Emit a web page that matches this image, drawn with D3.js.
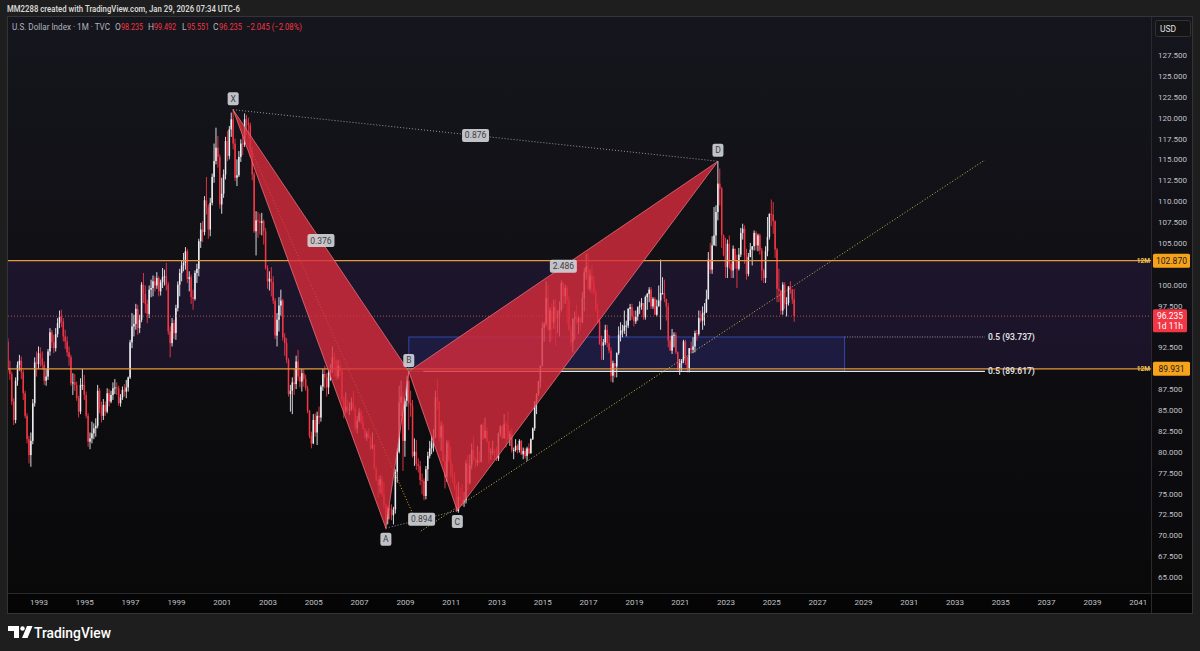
<!DOCTYPE html>
<html><head><meta charset="utf-8">
<script src="https://cdnjs.cloudflare.com/ajax/libs/d3/7.8.5/d3.min.js"></script>
<style>body{margin:0;background:#1e1e1e;overflow:hidden}svg{display:block}</style>
</head><body><svg id="c" width="1200" height="651"></svg>
<script>
// ---------------- DATA ----------------
const startYear = 1991, startMonth = 8; // first candle: Sep 1991
const firstOpen = 93.2;
const closes = [
89.9,89.3,86.0,83.8,
88.5,90.4,90.9,89.5,87.0,84.3,81.5,79.6,81.3,85.8,90.7,90.5,
91.8,91.2,90.4,88.5,89.0,92.0,94.3,93.1,92.4,94.1,95.4,96.2,
95.6,93.8,93.2,91.9,91.3,88.2,88.3,88.0,86.4,84.8,88.0,88.0,
86.8,84.3,81.2,81.6,82.2,82.8,83.1,87.3,85.2,84.3,85.6,84.8,
87.0,86.0,86.8,87.6,87.7,87.6,85.8,86.5,87.4,87.2,87.7,88.9,
93.1,95.0,95.3,97.1,94.8,95.8,100.0,98.9,97.7,96.5,99.4,99.6,
100.4,99.9,100.8,99.2,100.3,100.9,101.0,100.0,94.4,93.0,95.4,94.2,
97.2,100.0,101.4,102.3,102.6,104.0,100.7,100.9,98.5,98.3,101.4,101.9,
105.2,106.6,106.3,110.1,109.3,106.6,109.8,112.9,114.8,116.4,115.3,109.6,
110.9,113.2,117.2,115.4,118.6,119.8,116.9,112.8,113.1,115.3,116.9,116.8,
119.8,119.4,119.1,116.0,113.2,106.4,107.7,107.6,107.4,107.6,106.4,102.0,
100.4,100.7,100.3,98.1,93.9,95.8,97.5,98.1,93.7,93.0,91.0,86.9,
87.3,88.3,88.1,90.8,89.0,88.4,89.4,88.7,87.6,84.9,81.9,81.0,
83.8,82.3,84.3,84.1,87.8,89.3,88.9,87.7,89.5,89.8,91.3,90.9,
89.0,90.3,89.6,86.3,84.9,85.4,85.0,85.1,85.9,85.2,82.8,83.7,
84.7,83.6,82.8,81.7,82.2,81.7,80.4,80.8,78.0,76.6,76.0,76.7,
74.9,73.7,71.9,73.2,73.0,72.4,73.1,77.6,80.0,85.9,86.6,81.3,
86.1,88.5,85.8,85.5,79.5,80.0,78.5,78.3,76.6,76.5,74.7,77.9,
79.5,80.4,81.1,81.8,86.5,86.0,81.7,83.1,78.9,77.0,81.1,79.0,
77.2,76.9,75.9,72.9,74.6,74.3,74.0,74.2,78.6,76.2,78.4,80.2,
79.0,78.7,79.0,78.8,83.2,81.6,82.5,81.2,79.9,80.0,80.1,79.8,
79.2,82.2,83.0,81.6,83.3,83.2,81.5,82.1,80.2,80.2,80.7,80.2,
81.3,79.7,80.1,79.5,80.4,79.8,81.5,82.8,86.0,86.9,88.4,90.3,
94.8,95.3,98.4,94.6,96.9,95.5,97.3,96.0,96.4,97.0,100.2,98.6,
99.6,98.2,94.6,93.1,95.9,96.1,95.5,96.0,95.5,98.4,101.5,102.2,
99.5,101.1,100.4,99.1,97.0,95.6,92.9,92.7,93.1,94.6,93.0,92.1,
89.1,90.6,90.2,91.8,94.0,94.5,94.5,95.1,95.1,97.1,97.3,96.2,
95.6,96.2,97.3,97.5,97.8,96.1,98.5,98.9,99.4,97.4,98.3,96.4,
97.4,98.1,99.0,99.0,98.3,97.4,93.3,92.1,93.9,94.0,91.9,89.9,
90.6,90.9,93.2,91.3,90.0,92.4,92.2,92.6,94.2,94.1,96.0,95.7,
96.6,96.7,98.3,103.0,101.8,104.7,105.9,108.7,112.1,111.5,105.9,103.5,
102.1,104.9,102.5,101.7,104.3,102.9,101.9,103.6,106.2,106.7,103.5,101.3,
103.3,104.2,104.6,106.2,104.7,105.9,104.1,101.7,100.8,104.0,105.7,108.5,
108.4,107.6,104.2,99.5,99.3,96.9,100.0,97.8,97.8,99.8,99.4,98.235,
96.235];
const highs = [
93.6,90.9,89.6,86.4,
88.9,90.8,91.6,91.4,89.8,87.3,84.6,81.9,82.3,86.3,91.3,92.0,
92.6,92.5,92.0,90.8,89.9,92.3,94.8,94.6,94.0,94.8,96.0,96.9,
97.0,96.0,94.6,93.8,92.6,91.6,89.4,89.3,88.4,86.7,88.8,89.9,
89.2,87.2,84.6,82.3,83.6,83.4,84.0,88.0,87.6,86.0,86.3,86.0,
87.6,87.5,87.3,88.3,88.7,88.3,87.9,86.9,87.8,88.1,88.6,89.0,
93.4,96.6,96.4,97.7,97.6,96.4,100.3,101.4,99.9,98.2,99.9,100.6,
101.1,101.0,101.5,101.0,100.6,102.0,101.8,102.6,100.3,95.0,96.0,95.8,
97.6,100.4,101.9,102.9,103.8,104.5,104.3,101.6,101.2,99.4,101.7,102.5,
105.5,107.4,107.6,110.6,112.9,109.6,110.4,113.3,116.9,118.8,117.8,115.6,
112.8,113.8,117.7,118.4,119.0,120.6,121.0,117.5,115.0,116.0,117.4,118.0,
120.5,120.3,120.0,119.4,116.5,113.5,108.8,108.7,108.5,108.6,107.8,106.8,
102.3,101.6,102.1,101.0,98.4,96.6,98.5,99.4,98.3,94.2,93.6,91.2,
88.0,88.9,90.0,91.5,92.2,89.9,89.9,89.9,89.2,87.9,85.0,82.4,
84.5,84.6,84.8,85.4,88.0,89.9,90.3,89.4,89.8,90.5,92.6,91.9,
91.1,91.0,90.9,90.0,86.6,87.1,86.2,85.9,86.5,87.3,85.5,84.3,
85.2,85.0,84.3,82.8,82.5,82.8,81.9,82.3,80.9,78.2,77.0,77.2,
77.1,76.4,73.8,73.4,73.6,73.7,73.4,77.9,80.4,87.9,88.5,87.2,
86.4,89.1,89.6,87.3,86.2,81.6,81.4,79.2,78.9,77.4,76.8,78.3,
80.0,81.3,82.0,82.7,87.3,88.7,86.1,83.6,83.3,79.6,81.4,81.4,
80.6,78.5,77.6,76.1,76.4,75.7,76.1,75.2,79.0,79.6,79.7,81.0,
81.8,79.4,80.7,80.1,83.3,83.5,84.1,82.9,81.3,80.4,81.3,80.4,
80.6,82.3,83.2,83.2,84.5,83.6,84.8,82.5,82.8,80.5,81.5,80.9,
81.5,81.4,80.5,80.4,80.6,81.0,81.6,82.9,86.1,87.0,88.5,90.3,
95.5,95.5,100.4,100.0,97.3,97.8,98.2,98.3,96.9,98.0,100.5,100.3,
100.0,99.9,98.6,95.1,96.0,96.8,97.6,96.3,96.1,99.1,102.0,103.7,
103.8,101.8,102.3,101.0,99.5,97.8,96.0,93.9,93.5,95.2,95.2,94.0,
92.5,90.9,90.6,91.9,95.0,95.5,95.2,96.9,95.7,97.2,97.7,97.7,
96.9,96.9,97.4,98.0,98.4,97.8,98.7,99.0,99.7,99.7,98.5,98.5,
98.2,99.9,103.0,100.9,100.6,98.3,97.8,93.9,94.7,94.3,94.3,92.0,
91.1,91.1,93.4,93.4,91.4,92.4,93.2,93.7,94.5,94.6,96.9,96.9,
97.4,97.8,99.4,103.9,105.0,105.8,109.3,109.5,114.8,113.9,111.7,106.0,
105.6,105.4,105.9,102.8,104.7,104.0,103.6,104.4,106.8,107.3,107.1,104.3,
103.8,105.0,104.6,106.5,106.4,106.1,106.1,104.4,101.9,104.6,108.1,108.5,
110.2,109.9,107.7,104.4,101.9,99.4,100.3,100.3,98.5,99.8,100.4,99.5,
99.492];
const lows = [
89.5,88.6,85.6,83.2,
83.4,87.9,89.7,88.7,86.2,84.0,81.0,78.6,78.2,80.9,85.4,89.0,
89.9,90.2,89.8,88.0,87.9,88.6,91.5,92.4,91.8,92.0,93.7,94.8,
94.9,93.2,92.3,91.4,90.3,87.9,86.8,87.3,86.1,84.1,84.5,87.4,
86.2,84.0,80.6,80.3,81.0,81.5,81.8,82.8,84.6,83.5,83.8,84.3,
84.6,85.4,85.8,86.2,86.9,86.8,85.5,85.4,86.2,86.6,86.4,87.2,
88.7,92.4,93.8,94.6,94.0,94.2,95.5,97.8,96.6,95.4,96.0,98.5,
98.6,99.2,99.5,98.6,98.7,99.6,99.9,99.3,94.0,91.3,92.6,93.5,
93.4,96.8,98.6,100.4,101.6,101.8,100.2,99.2,97.7,97.0,98.1,100.2,
101.0,104.4,105.1,105.9,108.4,105.5,105.8,109.5,112.2,114.4,114.0,109.1,
108.5,110.4,112.6,114.8,115.0,117.7,116.2,112.4,111.8,112.9,114.7,115.5,
116.5,117.9,117.5,115.3,112.5,106.2,103.5,105.6,106.0,105.9,104.8,101.8,
99.5,99.3,98.6,97.7,93.5,92.6,94.4,96.3,93.3,91.5,90.6,86.6,
84.8,84.5,86.8,87.5,88.5,87.7,87.2,87.8,87.3,84.6,81.6,80.4,
80.9,81.8,80.8,83.3,83.6,87.3,87.6,86.6,86.9,88.5,89.4,89.0,
88.6,88.7,89.0,86.0,84.0,84.6,84.7,84.4,84.9,84.9,82.5,82.2,
83.5,83.3,82.6,81.6,81.3,81.6,80.2,80.3,77.8,76.5,74.5,75.0,
74.6,73.2,70.7,71.3,71.9,71.8,71.3,72.6,76.3,79.8,84.3,77.7,
79.4,85.4,82.6,84.2,79.3,78.3,77.8,77.5,76.0,74.9,74.2,74.3,
76.5,79.2,79.7,80.0,81.6,85.0,81.2,80.1,78.8,75.6,76.4,78.8,
76.9,76.3,75.4,72.8,72.7,73.5,73.5,73.4,73.8,75.4,76.1,77.9,
78.9,78.1,78.3,78.6,78.7,81.4,81.6,81.1,78.6,79.0,79.6,79.0,
78.9,78.9,81.8,81.5,81.6,80.5,81.4,80.7,79.9,79.1,80.0,79.8,
79.9,79.6,79.1,79.2,78.9,79.7,79.8,81.4,82.5,84.5,86.7,87.6,
90.2,93.2,95.0,94.5,93.1,93.3,94.7,92.6,94.2,93.8,96.8,97.2,
97.7,95.2,94.5,92.6,91.9,93.4,95.3,94.1,94.5,95.4,96.8,100.6,
99.4,99.2,98.9,98.8,96.8,95.4,92.8,91.0,91.0,92.8,92.5,91.8,
88.4,88.3,88.9,88.9,91.6,93.2,93.7,94.1,93.8,94.8,95.7,95.8,
95.0,95.3,95.7,96.5,97.0,95.8,95.8,97.0,97.9,97.1,97.1,96.4,
96.2,97.5,94.6,98.8,97.9,95.7,92.5,92.1,91.7,92.5,91.7,89.7,
89.2,89.7,90.6,90.4,89.5,89.5,91.8,91.8,91.9,93.3,93.9,95.5,
94.6,95.1,96.6,98.2,101.3,101.3,104.7,104.6,107.7,109.5,104.4,103.4,
100.8,100.8,101.9,100.8,100.8,101.9,99.6,101.7,103.3,105.4,102.5,100.6,
101.0,103.3,102.3,104.1,104.1,104.0,103.6,100.5,100.2,100.2,103.4,105.4,
107.0,106.1,103.2,97.9,97.9,96.4,96.4,97.1,96.2,97.5,98.9,97.7,
95.551];

// XABCD harmonic pattern
const patternNames  = ["X","A","B","C","D"];
const patternTimes  = [2001.5, 2008.17, 2009.17, 2011.29, 2022.67];
const patternPrices = [120.95, 70.85, 89.617, 72.95, 114.78];
const ratioPairs  = [[0,2],[1,3],[2,4],[0,4]];
const ratioLabels = ["0.376","0.894","2.486","0.876"];

// other drawings
const orangeRayTimes = [2001.5, 2009.55], orangeRayPrices = [120.95, 71.3];
const trendTimes = [2009.7, 2034.33], trendPrices = [70.5, 114.93];
const levels12M = [102.870, 89.931];
const lastPrice = 96.235;
const fibTop = 93.737, fibBottom = 89.617;
const fibBoxTimes = [2009.17, 2028.2];
const fibLineEnd = 2034.33, fibWhiteStart = 2009.8;

const priceTicks = [127.5,125,122.5,120,117.5,115,112.5,110,107.5,105,100,97.5,92.5,87.5,85,82.5,80,77.5,75,72.5,70,67.5,65];
const yearTicks = d3.range(1993, 2042, 2);

// ---------------- LAYOUT ----------------
const svg = d3.select("#c");
const P = {l:8, r:1151, t:17, b:593};
const x = d3.scaleLinear().domain([1993, 2041]).range([38.5, 1137.7]);
const y = d3.scaleLinear().domain([65, 127.5]).range([577, 55]);
const FONT = "Roboto, 'Open Sans', sans-serif";

const defs = svg.append("defs");
const g1 = defs.append("linearGradient").attr("id","bg").attr("x1",0).attr("y1",0).attr("x2",0).attr("y2",1);
g1.append("stop").attr("offset","0%").attr("stop-color","#15151d");
g1.append("stop").attr("offset","100%").attr("stop-color","#09090a");
defs.append("clipPath").attr("id","clip").append("rect")
  .attr("x",P.l).attr("y",P.t).attr("width",P.r-P.l).attr("height",P.b-P.t);

// frame / backgrounds
svg.append("rect").attr("width",1200).attr("height",651).attr("fill","#1e1e1e");
svg.append("rect").attr("x",P.l).attr("y",P.t).attr("width",1192-P.l).attr("height",P.b-P.t).attr("fill","url(#bg)");
svg.append("rect").attr("x",P.l).attr("y",P.b).attr("width",1192-P.l).attr("height",20).attr("fill","#050505");
svg.append("line").attr("x1",P.l).attr("x2",1192).attr("y1",P.b+0.5).attr("y2",P.b+0.5).attr("stroke","#2a2a2e");
svg.append("line").attr("x1",P.r+0.5).attr("x2",P.r+0.5).attr("y1",P.t).attr("y2",613).attr("stroke","#2a2a2e");
svg.append("rect").attr("x",P.l-0.5).attr("y",P.t-0.5).attr("width",1192-P.l+1).attr("height",613-P.t+1)
  .attr("fill","none").attr("stroke","#333338");

const plot = svg.append("g").attr("clip-path","url(#clip)");

// purple 12M zone
plot.append("rect").attr("x",P.l).attr("width",P.r-P.l)
  .attr("y",y(levels12M[0])).attr("height",y(levels12M[1])-y(levels12M[0]))
  .attr("fill","rgb(103,58,183)").attr("opacity",0.14);

// fib box
plot.append("rect").attr("x",x(fibBoxTimes[0])).attr("width",x(fibBoxTimes[1])-x(fibBoxTimes[0]))
  .attr("y",y(fibTop)).attr("height",y(fibBottom)-y(fibTop))
  .attr("fill","rgba(41,98,255,0.11)").attr("stroke","rgba(60,90,220,0.7)").attr("stroke-width",1);

// candles
const candles = closes.map((c,i)=>{
  const mi = startMonth + i;
  const t = startYear + Math.floor(mi/12) + (mi%12)/12;
  const o = i===0 ? firstOpen : closes[i-1];
  return {t, o, c, h: Math.max(highs[i],o,c), l: Math.min(lows[i],o,c)};
});
const bw = (x(1994)-x(1993))/12*0.8;
const cg = plot.append("g");
candles.forEach(d=>{
  const col = d.c >= d.o ? "#ececf0" : "#f23645";
  const cx = x(d.t);
  cg.append("line").attr("x1",cx).attr("x2",cx).attr("y1",y(d.h)).attr("y2",y(d.l))
    .attr("stroke",col).attr("stroke-width",0.9);
  const top = y(Math.max(d.o,d.c)), bot = y(Math.min(d.o,d.c));
  cg.append("rect").attr("x",cx-bw/2).attr("width",bw).attr("y",top).attr("height",Math.max(1,bot-top)).attr("fill",col);
});

// horizontal levels
levels12M.forEach(v=>{
  plot.append("line").attr("x1",P.l).attr("x2",P.r).attr("y1",y(v)).attr("y2",y(v))
    .attr("stroke","#e59a3c").attr("stroke-width",1.2);
  svg.append("text").attr("x",P.r-1).attr("y",y(v)+2.5).attr("text-anchor","end")
    .attr("font-family",FONT).attr("font-size",6.5).attr("font-weight",700).attr("fill","#f2c84b").text("12M");
});
plot.append("line").attr("x1",P.l).attr("x2",P.r).attr("y1",y(lastPrice)).attr("y2",y(lastPrice))
  .attr("stroke","#d0604a").attr("stroke-width",1).attr("stroke-dasharray","1,2").attr("opacity",0.85);

// fib lines and labels
plot.append("line").attr("x1",x(fibBoxTimes[1])).attr("x2",x(fibLineEnd)).attr("y1",y(fibTop)).attr("y2",y(fibTop))
  .attr("stroke","#9598a1").attr("stroke-dasharray","1,1.5");
plot.append("line").attr("x1",x(fibWhiteStart)).attr("x2",x(fibLineEnd)).attr("y1",y(fibBottom)).attr("y2",y(fibBottom))
  .attr("stroke","#e6e6ea").attr("stroke-width",1.3);
[[fibTop,"0.5 (93.737)"],[fibBottom,"0.5 (89.617)"]].forEach(([v,t])=>{
  svg.append("text").attr("x",x(fibLineEnd)+3).attr("y",y(v)+3).attr("font-family",FONT)
    .attr("font-size",8.5).attr("font-weight",600).attr("fill","#e0e0e4").text(t);
});

// trend lines
plot.append("line").attr("x1",x(orangeRayTimes[0])).attr("y1",y(orangeRayPrices[0]))
  .attr("x2",x(orangeRayTimes[1])).attr("y2",y(orangeRayPrices[1]))
  .attr("stroke","#f0a030").attr("stroke-width",1).attr("stroke-dasharray","1,2");
plot.append("line").attr("x1",x(trendTimes[0])).attr("y1",y(trendPrices[0]))
  .attr("x2",x(trendTimes[1])).attr("y2",y(trendPrices[1]))
  .attr("stroke","#cbbd4a").attr("stroke-width",1).attr("stroke-dasharray","1,2");

// XABCD pattern
const pts = patternTimes.map((t,i)=>[x(t), y(patternPrices[i])]);
[[0,1,2],[2,3,4]].forEach(tri=>{
  plot.append("path").attr("d","M"+tri.map(k=>pts[k].join(",")).join("L")+"Z")
    .attr("fill","#d92c3c").attr("fill-opacity",0.8)
    .attr("stroke","#f77a86").attr("stroke-opacity",0.7).attr("stroke-width",1);
});
[[1,3],[0,4]].forEach(([a,b])=>{
  plot.append("line").attr("x1",pts[a][0]).attr("y1",pts[a][1]).attr("x2",pts[b][0]).attr("y2",pts[b][1])
    .attr("stroke","#9598a1").attr("stroke-width",1).attr("stroke-dasharray","1,2");
});
function tag(cx, cy, txt, w){
  svg.append("rect").attr("x",cx-w/2).attr("y",cy-6.5).attr("width",w).attr("height",13).attr("rx",2)
    .attr("fill","#cfd1d6").attr("opacity",0.92);
  svg.append("text").attr("x",cx).attr("y",cy+3).attr("text-anchor","middle").attr("font-family",FONT)
    .attr("font-size",8.5).attr("fill","#3b3d44").text(txt);
}
ratioPairs.forEach(([a,b],i)=>{
  tag((pts[a][0]+pts[b][0])/2, (pts[a][1]+pts[b][1])/2, ratioLabels[i], 27);
});
patternNames.forEach((n,i)=>{
  const up = (i===0||i===2||i===4);
  tag(pts[i][0], pts[i][1] + (up?-11:11), n, 11);
});

// price axis
const ax = svg.append("g").attr("transform",`translate(1158,0)`)
  .call(d3.axisRight(y).tickValues(priceTicks).tickFormat(d3.format(".3f")).tickSize(0).tickPadding(0));
ax.select(".domain").remove();
ax.selectAll("text").attr("font-family",FONT).attr("font-size",8).attr("fill","#c0c2ca");

// price boxes
function priceBox(v, fill, txt, tcol){
  svg.append("rect").attr("x",1153).attr("y",y(v)-7).attr("width",37).attr("height",14).attr("rx",1.5).attr("fill",fill);
  svg.append("text").attr("x",1171.5).attr("y",y(v)+3).attr("text-anchor","middle").attr("font-family",FONT)
    .attr("font-size",8.5).attr("fill",tcol).text(txt);
}
priceBox(levels12M[0], "#f7a21b", "102.870", "#1a1a1a");
priceBox(levels12M[1], "#f7a21b", "89.931", "#1a1a1a");
svg.append("rect").attr("x",1153).attr("y",y(lastPrice)-7).attr("width",34).attr("height",23).attr("rx",1.5).attr("fill","#f23645");
svg.append("text").attr("x",1170).attr("y",y(lastPrice)+3).attr("text-anchor","middle").attr("font-family",FONT)
  .attr("font-size",8.5).attr("fill","#fff").text("96.235");
svg.append("text").attr("x",1170).attr("y",y(lastPrice)+13).attr("text-anchor","middle").attr("font-family",FONT)
  .attr("font-size",8.5).attr("fill","#fff").text("1d 11h");
// USD box
svg.append("rect").attr("x",1155.5).attr("y",20.5).attr("width",35).attr("height",16).attr("rx",2)
  .attr("fill","#141414").attr("stroke","#333");
svg.append("text").attr("x",1160).attr("y",31.5).attr("font-family",FONT).attr("font-size",8.5).attr("fill","#e0e0e0").text("USD");

// time axis
const tx = svg.append("g").attr("transform",`translate(0,${P.b+6})`)
  .call(d3.axisBottom(x).tickValues(yearTicks).tickFormat(d3.format("d")).tickSize(0).tickPadding(0));
tx.select(".domain").remove();
tx.selectAll("text").attr("font-family",FONT).attr("font-size",8).attr("fill","#c0c2ca");

// header and legend
svg.append("text").attr("x",7).attr("y",12).attr("font-family",FONT).attr("font-size",9).attr("font-weight",600)
  .attr("fill","#d6d6d6").attr("textLength",233).attr("lengthAdjust","spacingAndGlyphs")
  .text("MM2288 created with TradingView.com, Jan 29, 2026 07:34 UTC-6");
const leg = [
  [12,"U.S. Dollar Index · 1M · TVC","#b2b5be",98],
  [115,"O","#b2b5be",null],[121,"98.235","#f23645",22],
  [148,"H","#b2b5be",null],[154,"99.492","#f23645",22],
  [182,"L","#b2b5be",null],[187,"95.551","#f23645",22],
  [213,"C","#b2b5be",null],[219,"96.235","#f23645",23],
  [246,"−2.045 (−2.08%)","#f23645",56]];
leg.forEach(([lx,t,c,w])=>{
  const el = svg.append("text").attr("x",lx).attr("y",30).attr("font-family",FONT).attr("font-size",8.5).attr("fill",c).text(t);
  if (w) el.attr("textLength",w).attr("lengthAdjust","spacingAndGlyphs");
});

// footer logo
const lg = svg.append("g").attr("fill","#ffffff");
lg.append("path").attr("d","M8,626 h11 v12 h-5 v-7 h-6 z");
lg.append("circle").attr("cx",22.5).attr("cy",628.5).attr("r",2.2);
lg.append("path").attr("d","M22,638 L27,626 h5.5 L27.5,638 z");
svg.append("text").attr("x",34).attr("y",637.5).attr("font-family",FONT).attr("font-size",14).attr("font-weight",500)
  .attr("fill","#ffffff").attr("textLength",77).attr("lengthAdjust","spacingAndGlyphs").text("TradingView");
</script></body></html>
